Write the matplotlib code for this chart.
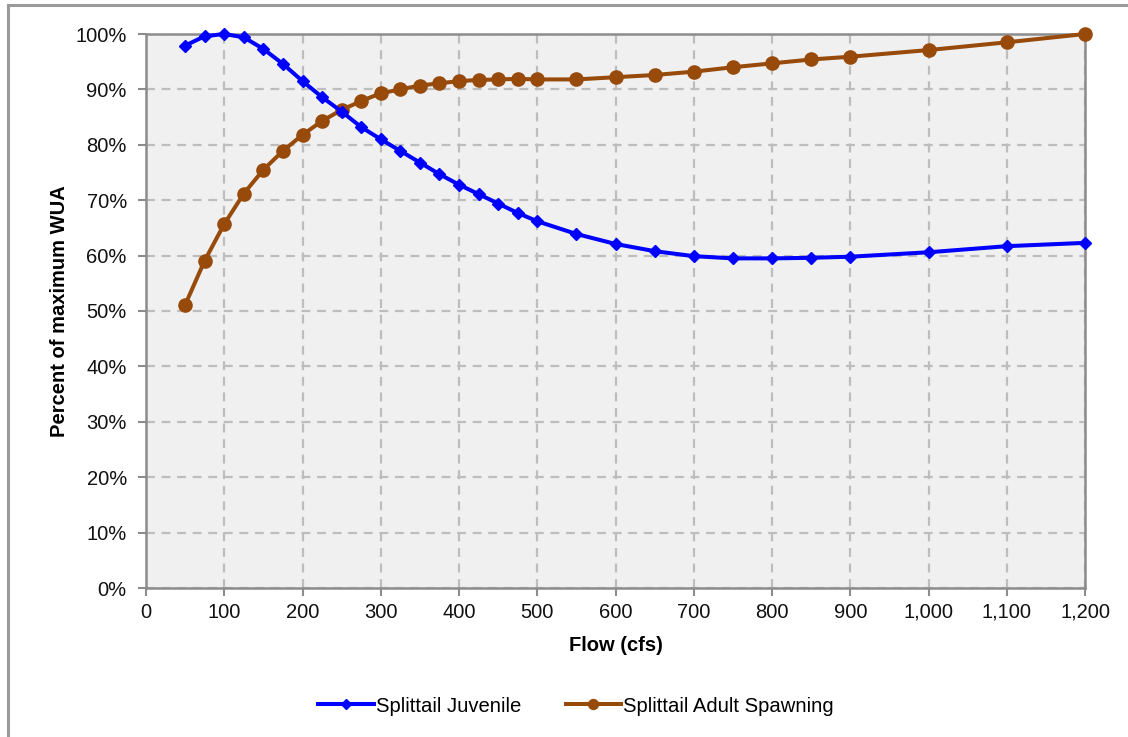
import matplotlib
matplotlib.use("Agg")
import matplotlib.pyplot as plt
from matplotlib.ticker import FuncFormatter, MultipleLocator
from matplotlib.lines import Line2D

plt.rcParams['font.family'] = ['Liberation Sans', 'DejaVu Sans']

flow = [50, 75, 100, 125, 150, 175, 200, 225, 250, 275, 300, 325, 350, 375, 400,
        425, 450, 475, 500, 550, 600, 650, 700, 750, 800, 850, 900, 1000, 1100, 1200]
juvenile = [97.9, 99.6, 100.0, 99.4, 97.3, 94.6, 91.5, 88.6, 86.0, 83.2, 81.0, 78.9,
            76.8, 74.7, 72.8, 71.1, 69.4, 67.7, 66.2, 63.9, 62.1, 60.8, 59.9, 59.5,
            59.5, 59.6, 59.8, 60.6, 61.7, 62.3]
spawning = [51.1, 59.1, 65.7, 71.2, 75.5, 78.9, 81.8, 84.3, 86.3, 87.9, 89.3, 90.0,
            90.7, 91.1, 91.5, 91.7, 91.8, 91.9, 91.8, 91.8, 92.2, 92.6, 93.2, 94.0,
            94.7, 95.4, 95.9, 97.1, 98.5, 100.0]
series_names = ["Splittail Juvenile", "Splittail Adult Spawning"]

fig = plt.figure(figsize=(11.28, 7.37), dpi=100)
ax = fig.add_axes([146/1128, 1-588/737, (1085-146)/1128, (588-34)/737])
ax.set_facecolor('#F0F0F0')

ax.plot(flow, juvenile, color='#0000FF', lw=2.9, marker='D', ms=6.5,
        label=series_names[0], zorder=4, clip_on=False)
ax.plot(flow, spawning, color='#974A0A', lw=2.9, marker='o', ms=9.5,
        label=series_names[1], zorder=3, clip_on=False)

ax.set_xlim(0, 1200)
ax.set_ylim(0, 100)
ax.xaxis.set_major_locator(MultipleLocator(100))
ax.yaxis.set_major_locator(MultipleLocator(10))
ax.xaxis.set_major_formatter(FuncFormatter(lambda v, p: f"{int(v):,}"))
ax.yaxis.set_major_formatter(FuncFormatter(lambda v, p: f"{int(v)}%"))

ax.grid(True, color='#BDBDBD', ls=(0, (4, 3)), lw=1.6, zorder=1)
ax.set_axisbelow(True)
for s in ax.spines.values():
    s.set_color('#8C8C8C')
    s.set_linewidth(1.8)
ax.tick_params(axis='both', colors='#8C8C8C', length=5.8, width=1.5,
               labelcolor='#111111', labelsize=14.5)
ax.tick_params(axis='y', pad=8)
ax.tick_params(axis='x', pad=5)

ax.set_xlabel("Flow (cfs)", fontsize=14.5, fontweight='bold', labelpad=10)
ax.set_ylabel("Percent of maximum WUA", fontsize=14.5, fontweight='bold', labelpad=5)

leg = fig.legend(loc='center', bbox_to_anchor=(576/1128, 1-706/737), ncol=2,
                 frameon=False, fontsize=14.6, handlelength=2.75, handletextpad=0.1,
                 columnspacing=2.2, markerscale=0.75)

# outer chart border (top and left visible)
fig.add_artist(Line2D([8/1128, 8/1128], [0, 1-5/737], transform=fig.transFigure,
                      color='#9A9A9A', lw=2.2))
fig.add_artist(Line2D([8/1128, 1], [1-5/737, 1-5/737], transform=fig.transFigure,
                      color='#9A9A9A', lw=2.2))

fig.savefig("out.png", dpi=100)
